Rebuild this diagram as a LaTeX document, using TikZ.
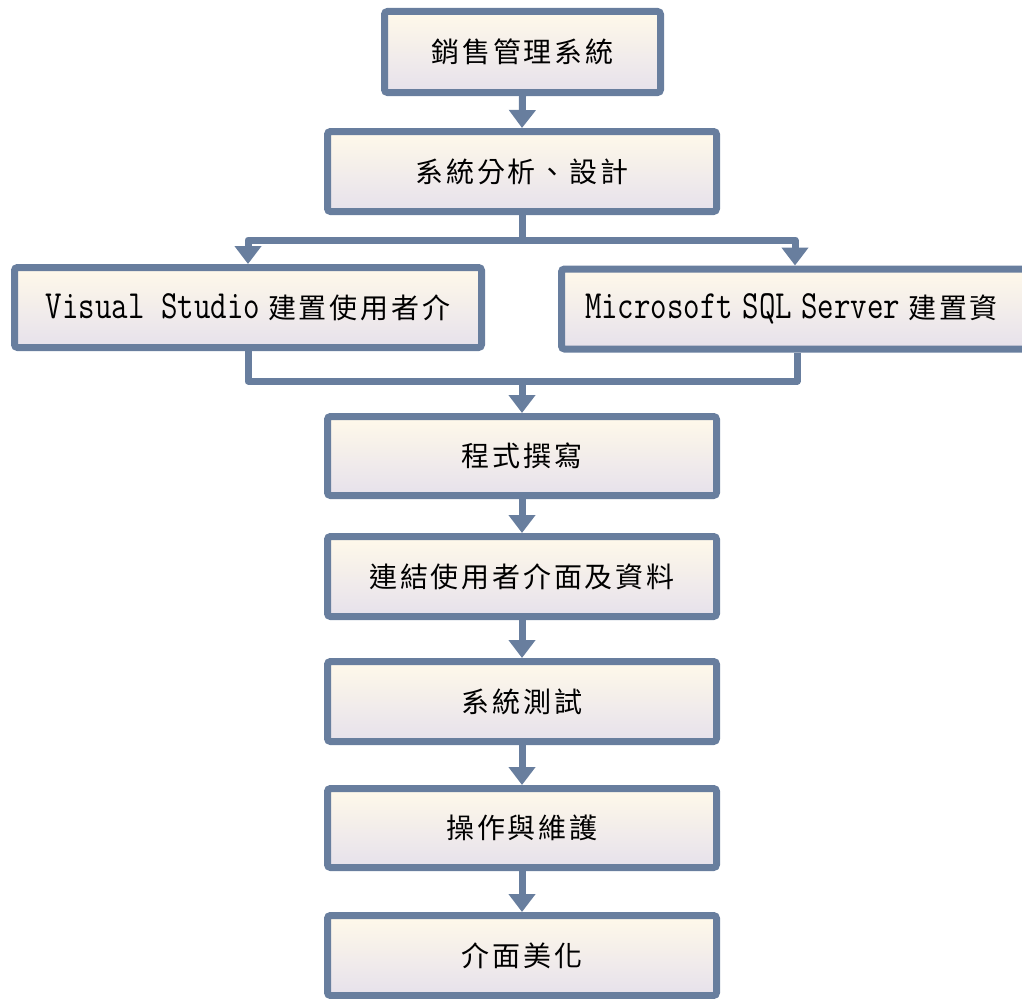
\documentclass[tikz,border=0pt]{standalone}
\usepackage{fontspec}
\usetikzlibrary{arrows.meta,calc}
\newfontfamily\cjk[LetterSpace=10]{Noto Sans CJK TC}
\newfontfamily\lat[FakeStretch=0.8]{Latin Modern Mono}
\definecolor{frame}{HTML}{687E9E}
\definecolor{topc}{HTML}{FFF9EA}
\definecolor{botc}{HTML}{E6E1EB}
\tikzset{
  box/.style={draw=frame, line width=7pt, rounded corners=3pt, top color=topc, bottom color=botc,
    inner sep=0pt, font=\cjk\fontsize{28}{32}\selectfont},
  conn/.style={draw=frame, line width=7pt, line join=round},
  arr/.style={conn, -{Triangle[width=26pt,length=18pt]}},
}
\begin{document}
\begin{tikzpicture}[x=1pt,y=-1pt]
\useasboundingbox (0,0) rectangle (1022,998);
\node[box, minimum width=276pt, minimum height=81pt] (b1) at (522.5,52) {銷售管理系統};
\node[box, minimum width=389pt, minimum height=80pt] (b2) at (522,171.5) {系統分析、設計};
\node[box, minimum width=467pt, minimum height=80pt] (b3) at (248,307.5)
  {{\lat\fontsize{40}{44}\selectfont Visual Studio}\hspace{8pt}建置使用者介};
\node[box, anchor=west, text width=454pt, align=left, inner xsep=23.5pt, minimum height=80pt] (b4) at (558,309)
  {{\lat\fontsize{40}{44}\selectfont Microsoft SQL Server}\hspace{8pt}建置資};
\node[box, minimum width=389pt, minimum height=79pt] (b5) at (522,456) {程式撰寫};
\node[box, minimum width=389pt, minimum height=80pt] (b6) at (522,576.5) {連結使用者介面及資料};
\node[box, minimum width=389pt, minimum height=80pt] (b7) at (522,701.5) {系統測試};
\node[box, minimum width=389pt, minimum height=79pt] (b8) at (522,828) {操作與維護};
\node[box, minimum width=389pt, minimum height=80pt] (b9) at (522,955.5) {介面美化};
% split
\coordinate (sp) at (522,240);
\coordinate (b4in) at ([xshift=237pt]b4.north west);
\coordinate (b4out) at ([xshift=239pt]b4.south west);
\draw[conn] (b2.south) -- (sp);
\draw[arr] (sp) -| (b3.north);
\draw[arr] (sp) -| (b4in);
% merge
\coordinate (mg) at (522,381);
\draw[conn] (b3.south) |- (mg) -| (b4out);
\draw[arr] (mg) -- (b5.north);
% chain
\draw[arr] (b1.south) -- (b2.north);
\draw[arr] (b5.south) -- (b6.north);
\draw[arr] (b6.south) -- (b7.north);
\draw[arr] (b7.south) -- (b8.north);
\draw[arr] (b8.south) -- (b9.north);
\end{tikzpicture}
\end{document}
